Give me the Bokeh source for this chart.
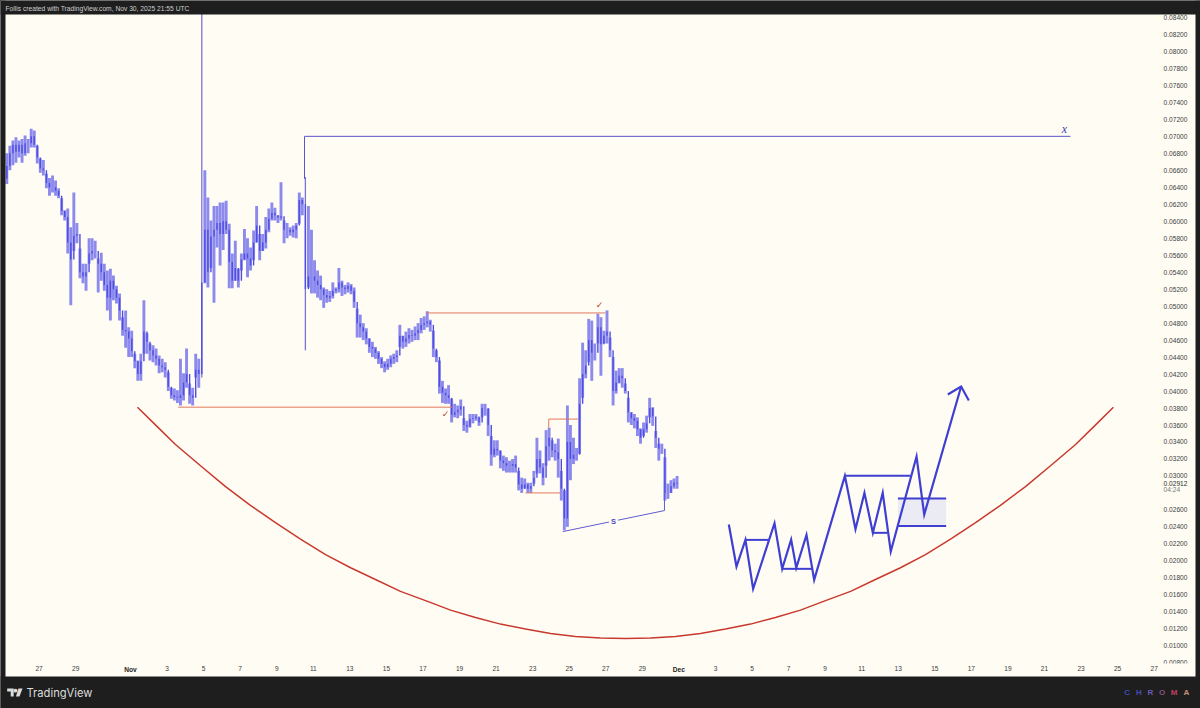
from bokeh.plotting import figure
from bokeh.embed import file_html
from bokeh.resources import INLINE
from bokeh.core.properties import value
from bokeh.models import (Range1d, FixedTicker, Label, BoxAnnotation, PolyAnnotation, LinearAxis,
                          GlobalInlineStyleSheet, ColumnDataSource)
import numpy as np

# ---- data (days since Nov 1, prices) ----
bar_high = [.0680,.0689,.0695,.0699,.0695,.0697,.0701,.0697,.0709,.0707,
 .0689,.0674,.0672,.0656,.0651,.0654,.0648,.0639,.0627,.0613,
 .0615,.0593,.0634,.0598,.0568,.0550,.0550,.0580,.0580,.0577,
 .0556,.0563,.0550,.0542,.0544,.0536,.0524,.0515,.0487,.0495,
 .0475,.0471,.0444,.0436,.0444,.0507,.0468,.0456,.0454,.0450,
 .0442,.0438,.0434,.0422,.0404,.0403,.0401,.0438,.0421,.0450,
 .0409,.0404,.0444,.0438,
 .0860,
 .0660,.0628,.0601,.0618,.0618,.0622,.0622,.0624,.0597,.0562,
 .0577,.0544,.0562,.0591,.0580,.0569,.0589,.0618,.0585,.0585,
 .0605,.0615,.0622,.0616,.0607,.0646,.0601,.0598,.0593,.0595,
 .0598,.0634,.0628,.0652,
 .0618,.0590,.0554,.0542,.0536,.0522,.0520,.0518,.0528,.0522,
 .0545,.0530,.0525,.0528,.0526,.0522,.0497,.0490,.0480,.0474,
 .0462,.0458,.0452,.0447,.0440,.0435,.0438,.0442,.0444,.0448,
 .0478,.0465,.0470,.0474,.0472,.0476,.0480,.0486,.0488,.0494,
 .0484,
 .0471,.0448,.0436,.0412,.0403,.0407,.0391,.0385,.0383,.0390,
 .0368,.0365,.0373,.0373,.0373,.0369,.0385,.0385,.0379,.0347,
 .0342,.0342,.0330,.0324,.0322,.0318,.0320,.0324,.0306,.0298,
 .0297,.0292,.0292,.0306,.0345,.0330,.0315,.0354,.0357,.0342,
 .0338,.0344,.0306,.0283,.0383,.0360,.0345,.0333,.0415,.0457,
 .0448,.0485,.0483,.0456,.0491,.0487,.0471,.0495,.0463,.0440,
 .0424,.0427,.0427,.0409,.0392,.0375,.0373,.0369,.0356,.0363,
 .0371,.0392,.0381,.0353,.0338,.0338,.0322,.0291,.0295,.0297,.0300]
bar_low = [.0644,.0660,.0666,.0669,.0675,.0669,.0677,.0680,.0687,.0687,
 .0668,.0657,.0654,.0639,.0630,.0634,.0630,.0627,.0607,.0601,
 .0562,.0501,.0565,.0574,.0533,.0527,.0518,.0550,.0554,.0556,
 .0516,.0530,.0518,.0495,.0483,.0507,.0503,.0483,.0465,.0451,
 .0440,.0440,.0427,.0412,.0412,.0444,.0444,.0436,.0434,.0430,
 .0421,.0422,.0416,.0400,.0391,.0389,.0386,.0383,.0389,.0404,
 .0385,.0383,.0416,.0404,
 .0416,
 .0527,.0522,.0545,.0504,.0569,.0548,.0566,.0585,.0521,.0521,
 .0530,.0522,.0542,.0554,.0534,.0542,.0554,.0575,.0554,.0565,
 .0568,.0587,.0601,.0601,.0598,.0601,.0574,.0580,.0583,.0581,
 .0580,.0597,.0607,.0448,
 .0522,.0515,.0515,.0510,.0507,.0498,.0504,.0505,.0509,.0515,
 .0516,.0512,.0514,.0516,.0514,.0498,.0463,.0463,.0460,.0455,
 .0445,.0440,.0438,.0432,.0427,.0422,.0425,.0428,.0432,.0434,
 .0452,.0450,.0452,.0456,.0458,.0460,.0460,.0468,.0472,.0475,
 .0470,
 .0440,.0434,.0397,.0386,.0385,.0385,.0363,.0369,.0368,.0371,
 .0353,.0351,.0357,.0362,.0365,.0359,.0369,.0371,.0347,.0312,
 .0322,.0324,.0309,.0306,.0304,.0304,.0304,.0304,.0283,.0280,
 .0285,.0280,.0280,.0291,.0303,.0303,.0289,.0312,.0318,.0322,
 .0318,.0298,.0271,.0236,.0240,.0295,.0314,.0318,.0326,.0392,
 .0415,.0434,.0412,.0436,.0456,.0418,.0456,.0456,.0440,.0383,
 .0397,.0409,.0404,.0397,.0363,.0360,.0356,.0347,.0338,.0347,
 .0351,.0369,.0359,.0333,.0318,.0326,.0271,.0273,.0280,.0285,.0285]
bar_close = [.0665,.0680,.0690,.0682,.0690,.0680,.0692,.0692,.0700,.0690,
 .0675,.0662,.0660,.0645,.0640,.0640,.0636,.0630,.0612,.0605,
 .0575,.0555,.0583,.0585,.0540,.0535,.0540,.0562,.0565,.0565,
 .0550,.0540,.0525,.0510,.0530,.0520,.0510,.0495,.0472,.0470,
 .0462,.0447,.0435,.0420,.0435,.0470,.0458,.0448,.0442,.0438,
 .0430,.0428,.0425,.0405,.0395,.0393,.0392,.0395,.0410,.0420,
 .0395,.0392,.0425,.0420,
 .0528,
 .0590,.0540,.0582,.0590,.0598,.0585,.0600,.0590,.0552,.0530,
 .0545,.0530,.0555,.0562,.0556,.0548,.0575,.0595,.0565,.0575,
 .0590,.0603,.0610,.0607,.0604,.0606,.0590,.0590,.0587,.0590,
 .0595,.0625,.0620,.0520,
 .0535,.0535,.0530,.0525,.0520,.0513,.0510,.0512,.0518,.0520,
 .0528,.0522,.0520,.0524,.0518,.0505,.0480,.0475,.0470,.0462,
 .0452,.0450,.0445,.0438,.0432,.0428,.0432,.0438,.0440,.0442,
 .0465,.0458,.0462,.0466,.0465,.0468,.0472,.0478,.0480,.0482,
 .0478,
 .0450,.0440,.0405,.0398,.0395,.0392,.0372,.0375,.0378,.0382,
 .0360,.0358,.0367,.0368,.0370,.0363,.0380,.0380,.0360,.0325,
 .0332,.0330,.0318,.0315,.0312,.0312,.0314,.0310,.0290,.0285,
 .0290,.0285,.0288,.0298,.0320,.0310,.0298,.0335,.0345,.0330,
 .0328,.0320,.0285,.0250,.0340,.0320,.0325,.0325,.0385,.0420,
 .0430,.0460,.0445,.0445,.0475,.0455,.0465,.0470,.0448,.0400,
 .0410,.0418,.0415,.0400,.0375,.0368,.0365,.0355,.0345,.0355,
 .0362,.0380,.0370,.0345,.0332,.0332,.0280,.0280,.0288,.0292,.0291]
last_bar_day = 29.9
bar_days_per_bar = 1 / 6

curve_day = [.38,1.42,2.46,3.83,5.20,6.56,7.93,9.30,10.67,12.04,13.40,14.77,16.14,17.51,18.87,20.24,21.61,22.98,24.34,25.71,27.08,
             28.45,29.81,31.18,32.55,33.92,35.28,36.65,38.02,39.39,40.75,42.12,43.49,44.86,46.23,47.59,48.96,50.33,51.70,52.74,53.77]
curve_price = [.0381,.0359,.0337,.0312,.02875,.02654,.0245,.02256,.02074,.01919,.0178,.01641,.01532,.0142,.01332,.01255,.01197,.01144,.01108,.0109,.01085,
               .0109,.01108,.01144,.01197,.01255,.01332,.0142,.01532,.01641,.0178,.01919,.02074,.02256,.0245,.02654,.02875,.0312,.0337,.0359,.0381]

path_day = [32.73,33.15,33.64,34.06,35.23,35.65,36.14,36.42,36.98,37.40,39.08,
            39.66,40.15,40.61,41.15,41.59,43.00,43.42,45.44]
path_price = [.02428,.01933,.02247,.0167,.02443,.01906,.0225,.01918,.02306,.01776,.03001,
              .02372,.02801,.0233,.028,.0211,.03229,.02545,.04053]
arrow_day = [44.71,45.44,45.86]
arrow_price = [.03959,.04053,.03888]
level_day0 = [33.64,35.65,39.08,40.61,41.98,41.98]
level_day1 = [34.92,37.29,42.67,41.39,44.62,44.62]
level_price = [.02247,.01906,.03001,.0233,.02734,.02412]

red_x0 = [2.61,16.19,22.88,21.61,22.88]
red_x1 = [17.60,25.98,24.49,23.52,22.88]
red_y0 = [.0381,.0492,.0367,.0280,.0357]
red_y1 = [.0381,.0492,.0367,.0280,.0367]

x_line_day = [9.52,9.52,51.42]
x_line_price = [.0650,.0700,.0700]
s_line_day = [23.65,29.21,29.21]
s_line_price = [.02345,.02592,.0291]

price_ticks = [.008,.010,.012,.014,.016,.018,.020,.022,.024,.026,.030,.032,.034,.036,.038,
               .040,.042,.044,.046,.048,.050,.052,.054,.056,.058,.060,.062,.064,.066,.068,
               .070,.072,.074,.076,.078,.080,.082,.084]
last_price = .02912
countdown_price = .0284
countdown_text = "04:24"
time_tick_days = [-5,-3,2,4,6,8,10,12,14,16,18,20,22,24,26,28,32,34,36,38,40,42,44,46,48,50,52,54,56]
time_tick_labels = ["27","29","3","5","7","9","11","13","15","17","19","21","23","25","27","29",
                    "3","5","7","9","11","13","15","17","19","21","23","25","27"]
month_tick_days = [0, 30]
month_tick_labels = ["Nov", "Dec"]
chroma_letters = ["C","H","R","O","M","A"]
chroma_colors = ["#3b4bb4","#4a4abc","#6a5ab4","#8a5084","#c24060","#d09070"]

# ---- figure: the frame fills the canvas; axes sit at fixed data locations ----
CREAM = "#fffdf3"
DARK = "#1e1e1e"
AXIS_DAY = 56.24      # left edge of the price scale
AXIS_PRICE = .00779   # top edge of the time scale
p = figure(width=1200, height=708, output_backend="svg", toolbar_location=None,
           x_range=Range1d(-7.112, 58.534), y_range=Range1d(.00261, .08600),
           y_axis_location="right", min_border=0,
           background_fill_color=CREAM, border_fill_color=DARK, outline_line_color=None)
p.stylesheets = [GlobalInlineStyleSheet(css="html,body{margin:0;padding:0;background:#1e1e1e;overflow:hidden}")]
p.grid.visible = False

def style_axis(a, ticks, labels, color, standoff, bold=False):
    a.ticker = FixedTicker(ticks=ticks)
    a.major_label_overrides = dict(zip(ticks, labels))
    a.axis_line_color = None
    a.major_tick_line_color = None
    a.minor_tick_line_color = None
    a.major_tick_in = a.major_tick_out = a.minor_tick_in = a.minor_tick_out = 0
    a.major_label_text_font = "Liberation Sans"
    a.major_label_text_font_size = "6.6px"
    a.major_label_text_color = color
    a.major_label_standoff = standoff
    if bold:
        a.major_label_text_font_style = "bold"

xa = p.xaxis[0]
xa.fixed_location = AXIS_PRICE
style_axis(xa, time_tick_days, time_tick_labels, "#3c3c3c", 1)
ya = p.yaxis[0]
ya.fixed_location = AXIS_DAY
style_axis(ya, price_ticks, [f"{t:.5f}" for t in price_ticks], "#3c3c3c", 5)

xa2 = LinearAxis(fixed_location=AXIS_PRICE)
style_axis(xa2, month_tick_days, month_tick_labels, "#222222", 1, bold=True)
p.add_layout(xa2, "below")
ya2 = LinearAxis(fixed_location=AXIS_DAY)
style_axis(ya2, [last_price], [f"{last_price:.5f}"], "#2a2a2a", 5)
p.add_layout(ya2, "right")
ya3 = LinearAxis(fixed_location=AXIS_DAY)
style_axis(ya3, [countdown_price], [countdown_text], "#777777", 5)
p.add_layout(ya3, "right")

# candles
n = len(bar_close)
days = last_bar_day - (n - 1 - np.arange(n)) * bar_days_per_bar
high = np.array(bar_high); low = np.array(bar_low); close = np.array(bar_close)
opens = np.r_[.0650, close[:-1]]
tall = (high - low) > .02
src = ColumnDataSource(dict(d=days, h=high, l=low, o=opens, c=close,
                            w=np.where(tall, 1.3, 2.9),
                            col=np.where(tall, "#6a64cf", "#7f7dec")))
p.segment("d", "l", "d", "h", source=src, line_color="col", line_width="w", line_alpha=0.9)
p.segment("d", "o", "d", "c", source=src, line_color="#4f4de4", line_width=1.4)

# curve and drawings
p.line(curve_day, curve_price, line_color="#c9382e", line_width=1.5)
for a, b, c, d in zip(red_x0, red_x1, red_y0, red_y1):
    p.line([a, b], [c, d], line_color="#e2785c", line_width=1)
p.line(x_line_day, x_line_price, line_color="#5a55c8", line_width=1)
p.line(s_line_day, s_line_price, line_color="#5f5cd0", line_width=1)

BLUE = "#3f3fd2"
p.quad(left=[41.98], right=[44.62], top=[level_price[4]], bottom=[level_price[5]],
       fill_color="#ebebf3", line_color=None)
for a, b, c in zip(level_day0, level_day1, level_price):
    p.line([a, b], [c, c], line_color=BLUE, line_width=2)
p.line(path_day, path_price, line_color=BLUE, line_width=2.2, line_join="miter")
p.line(arrow_day, arrow_price, line_color=BLUE, line_width=2.2, line_join="miter")

p.text([51.09], [.0709], text=["x"], text_font=value("Liberation Serif"), text_font_style="italic",
       text_font_size="12px", text_color="#3a3ab0", text_align="center", text_baseline="middle")
p.text([17.23, 25.66], [.0373, .0501], text=["\u2713", "\u2713"], text_font=value("DejaVu Sans"),
       text_font_size="9px", text_color="#c0392f", text_align="center", text_baseline="middle")
p.add_layout(Label(x=26.42, y=.02463, text="S", text_font="Liberation Sans", text_font_style="bold",
                   text_font_size="7.5px", text_color="#4a48c0", text_align="center",
                   text_baseline="middle", background_fill_color=CREAM,
                   padding=2))

# annotation coordinates in screen units: measured from the lower left corner
def sx(x):
    return x
def sy(y):
    return 708 - y

# dark surround, plus the bit of cream that cuts the scales where they meet
for l, r, t, b, col in [(1158, 1195, 663, 676, CREAM), (0, 1200, 0, 14, DARK), (0, 1200, 676, 708, DARK),
                        (0, 5, 0, 708, DARK), (1195, 1200, 0, 708, DARK)]:
    p.add_layout(BoxAnnotation(left=sx(l), right=sx(r), top=sy(t), bottom=sy(b), left_units="screen", right_units="screen",
                               top_units="screen", bottom_units="screen", fill_color=col, fill_alpha=1,
                               line_color=None, level="annotation", editable=False))

def slabel(x, y, text, size, color, align="left", style="normal", font="Liberation Sans"):
    p.add_layout(Label(x=sx(x), y=sy(y), x_units="screen", y_units="screen", text=text, text_font=font,
                       text_font_size=size, text_color=color, text_align=align,
                       text_baseline="middle", text_font_style=style))

slabel(5, 8, "Follis created with TradingView.com, Nov 30, 2025 21:55 UTC", "6.7px", "#cfcfcf")
slabel(26, 692, "TradingView", "11.2px", "#dcdcdc", font="Inter")
for letter, color, x in zip(chroma_letters, chroma_colors, [1126.7, 1138.3, 1150, 1161.7, 1173.7, 1186]):
    slabel(x, 692, letter, "8px", color, align="center", style="bold")

# logo
for xs, ys in [([6.7, 13.2, 13.2, 10.2, 10.2, 6.7], [688, 688, 696, 696, 691, 691]),
               ([18, 22, 19, 15.4], [688, 688, 696, 696])]:
    p.add_layout(PolyAnnotation(xs=[sx(v) for v in xs], ys=[sy(v) for v in ys], xs_units="screen", ys_units="screen",
                                fill_color="#dcdcdc", fill_alpha=1, line_color=None))
slabel(15, 689.6, "\u25cf", "5px", "#dcdcdc", align="center", font="DejaVu Sans")

open("out.html", "w").write(file_html(p, INLINE))
